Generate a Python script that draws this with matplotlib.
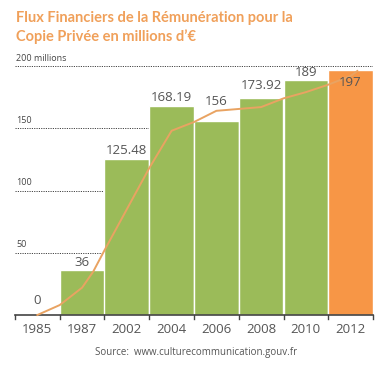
"""Flux financiers de la remuneration pour la copie privee."""

import matplotlib

matplotlib.use("Agg")
from matplotlib import pyplot as plt

years = ["1985", "1987", "2002", "2004", "2006", "2008", "2010", "2012"]
amounts = [0, 36, 125.48, 168.19, 156, 173.92, 189, 197]
value_labels = ["0", "36", "125.48", "168.19", "156", "173.92", "189", "197"]
label_offsets_px = [14, 8, 8, 8, 19, 13, 7, -13]

# trend curve (category position, value)
trend_pos = [0, 0.5, 1, 1.25, 1.5, 2, 2.5, 3, 3.5, 4, 5, 5.5, 6, 6.5, 7, 7.15]
trend_val = [0, 8, 22, 35, 52, 85, 118, 148, 155, 164, 167, 174, 179, 185, 192, 196]

grid_levels = [50, 100, 150, 200]
grid_labels = ["50", "100", "150", "200 millions"]

GREEN = "#9bbb59"
ORANGE = "#f79646"
LINE = "#e9a362"
TITLE = "#f0a05a"
TEXT = "#555555"

plt.rcParams["font.family"] = ["Open Sans", "DejaVu Sans"]

fig = plt.figure(figsize=(3.92, 3.69), dpi=100)
ax = fig.add_axes([15 / 392, (369 - 315) / 369, 358 / 392, 249 / 369])

colors = [GREEN] * (len(years) - 1) + [ORANGE]
xs = list(range(len(years)))
ax.bar(xs, amounts, width=1.0, color=colors, edgecolor="white", linewidth=1.0, zorder=2)

for level, text in zip(grid_levels, grid_labels):
    ax.axhline(level, color="#444444", linestyle=(0, (1.2, 1.2)), linewidth=0.7, zorder=1)
    ax.annotate(text, (-0.5, level), xytext=(1, 2.5), textcoords="offset points",
                fontsize=6.5, color="#444444", va="bottom", ha="left")

ax.plot(trend_pos, trend_val, color=LINE, linewidth=1.4, zorder=3, clip_on=False)

for x, val, lab, off in zip(xs, amounts, value_labels, label_offsets_px):
    ax.annotate(lab, (x, val), xytext=(0, off * 0.72), textcoords="offset points",
                ha="center", va="center", fontsize=9.5, color=TEXT, zorder=4)

ax.set_xlim(-0.5, len(years) - 0.5)
ax.set_ylim(0, 200)
ax.set_yticks([])
ax.set_xticks(xs)
ax.set_xticklabels(years, fontsize=9.5, color=TEXT)
ax.tick_params(axis="x", length=0, pad=6)
for b in [x - 0.5 for x in xs] + [len(years) - 0.5]:
    ax.plot([b, b], [0, -3.5], color="#444444", linewidth=1.0, clip_on=False)
for side in ["top", "right", "left"]:
    ax.spines[side].set_visible(False)
ax.spines["bottom"].set_color("#444444")
ax.spines["bottom"].set_linewidth(1.2)

title_font = {"family": ["Lato", "DejaVu Sans"], "fontsize": 10.5, "fontweight": "bold"}
fig.text(16 / 392, 1 - 18 / 369, "Flux Financiers de la Rémunération pour la",
         color=TITLE, va="center", ha="left", **title_font)
fig.text(16 / 392, 1 - 37 / 369, "Copie Privée en millions d’€",
         color=TITLE, va="center", ha="left", **title_font)
fig.text(196 / 392, 1 - 352 / 369, "Source:  www.culturecommunication.gouv.fr",
         fontsize=7, color=TEXT, va="center", ha="center")

fig.savefig("out.png", dpi=100)
